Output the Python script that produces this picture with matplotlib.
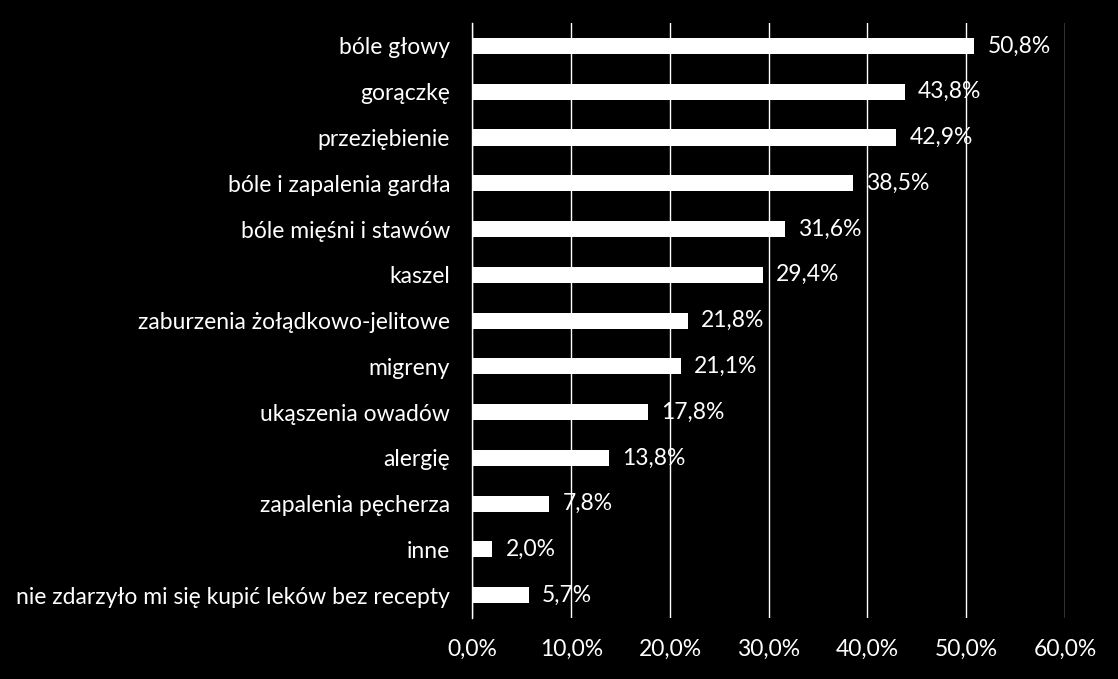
import matplotlib
matplotlib.use("Agg")
import matplotlib.pyplot as plt
from matplotlib.ticker import FuncFormatter

# === dane ===
categories = [
    "bóle głowy",
    "gorączkę",
    "przeziębienie",
    "bóle i zapalenia gardła",
    "bóle mięśni i stawów",
    "kaszel",
    "zaburzenia żołądkowo-jelitowe",
    "migreny",
    "ukąszenia owadów",
    "alergię",
    "zapalenia pęcherza",
    "inne",
    "nie zdarzyło mi się kupić leków bez recepty",
]
values = [50.8, 43.8, 42.9, 38.5, 31.6, 29.4, 21.8, 21.1, 17.8, 13.8, 7.8, 2.0, 5.7]
x_ticks = [0, 10, 20, 30, 40, 50, 60]

def pl_pct(v, _=None):
    return f"{v:.1f}%".replace(".", ",")

plt.rcParams["font.family"] = ["Lato", "DejaVu Sans"]

fig = plt.figure(figsize=(11.18, 6.79), dpi=100, facecolor="black")
ax = fig.add_axes([0.4226, 0.0898, 0.530, 0.8762], facecolor="black")

y = list(range(len(categories)))
ax.barh(y, values, height=0.35, color="white", zorder=3)

for yi, v in zip(y, values):
    ax.annotate(pl_pct(v), (v, yi), xytext=(9.5, 0), textcoords="offset points",
                va="center", ha="left", color="white", fontsize=16.5, zorder=4)

ax.set_ylim(len(categories) - 0.5, -0.5)
ax.set_xlim(0, 60)
ax.set_yticks(y)
ax.set_yticklabels(categories)
ax.set_xticks(x_ticks)
ax.xaxis.set_major_formatter(FuncFormatter(pl_pct))

ax.grid(axis="x", color="white", linewidth=1.0, zorder=0)
for s in ["top", "right", "bottom"]:
    ax.spines[s].set_visible(False)
ax.spines["left"].set_color("white")
ax.spines["left"].set_linewidth(1.0)
ax.spines["left"].set_zorder(5)

ax.tick_params(axis="both", length=0, colors="white", labelsize=16.5)
ax.tick_params(axis="y", pad=16)
ax.tick_params(axis="x", pad=15)

fig.savefig("out.png", dpi=100, facecolor="black")
